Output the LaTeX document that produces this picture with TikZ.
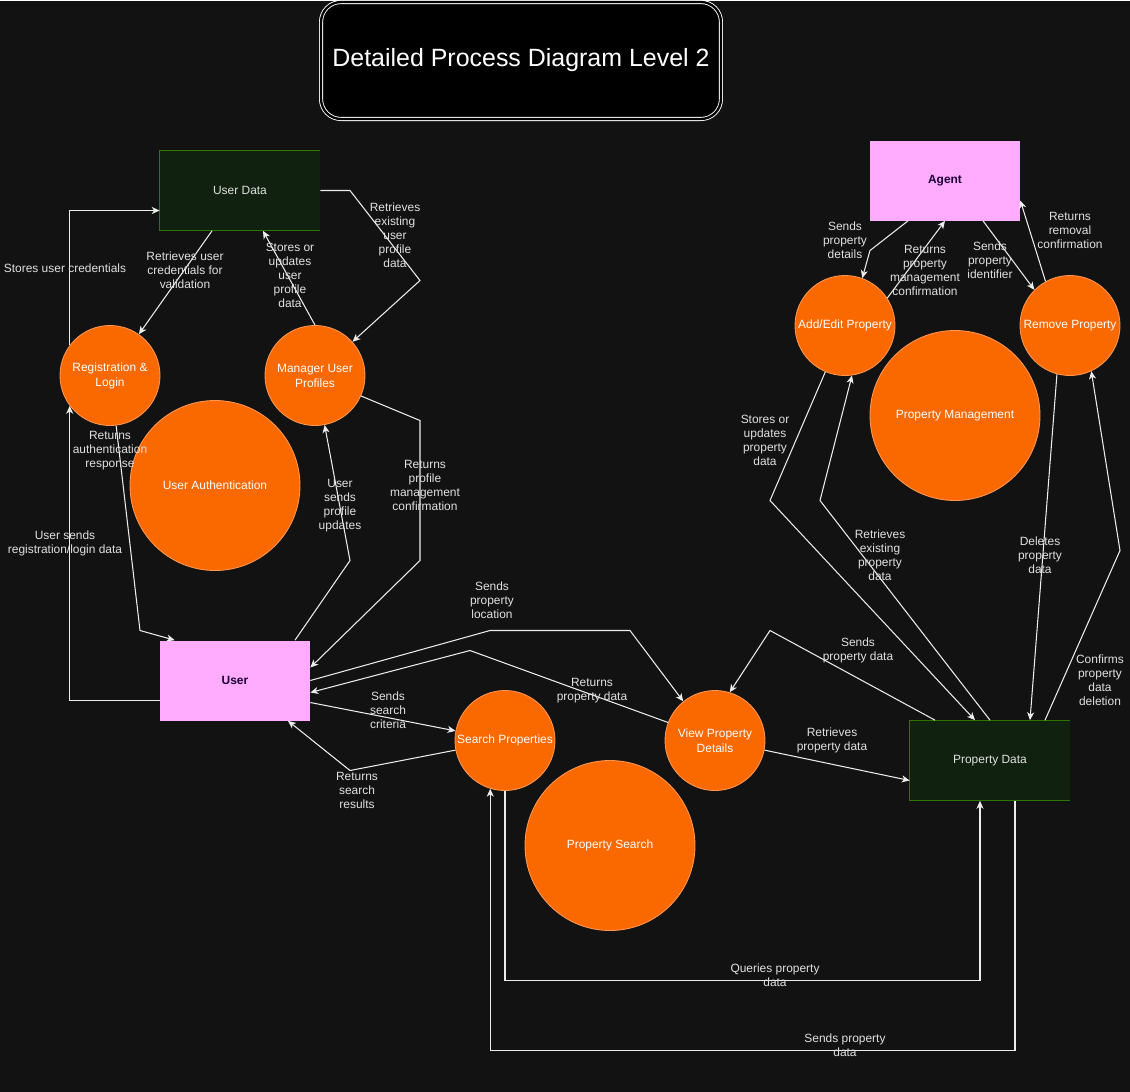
\documentclass[tikz,border=0pt]{standalone}
\usepackage{xcolor}
\usepackage{fontspec}
\setmainfont{Liberation Sans}
\usepackage{tikz}
\usetikzlibrary{arrows.meta,calc}
\definecolor{canvas}{RGB}{18,18,18}
\definecolor{storefill}{RGB}{17,33,16}
\definecolor{storeline}{RGB}{45,118,0}
\definecolor{actorfill}{RGB}{255,172,255}
\definecolor{actortext}{RGB}{26,0,51}
\definecolor{procfill}{RGB}{250,104,0}
\definecolor{procline}{RGB}{255,150,80}
\definecolor{flowline}{RGB}{236,236,236}
\definecolor{flowtext}{RGB}{225,225,225}

\tikzset{
  titlebox/.style={draw=white, double=black, double distance=1.3pt, line width=0.5pt, fill=black, rounded corners=0.4cm,
    minimum width=8.0cm, minimum height=2.34cm, text=white, font=\fontsize{14.2}{17}\selectfont},
  store/.style={fill=storefill, minimum width=3.2cm, minimum height=1.6cm, text=flowtext, font=\fontsize{6.8}{8.5}\selectfont},
  actorbox/.style={fill=actorfill, minimum width=3.0cm, minimum height=1.6cm, text=actortext, font=\fontsize{6.8}{8.5}\selectfont\bfseries},
  proc/.style={circle, fill=procfill, draw=procline, line width=0.5pt, inner sep=0pt, minimum size=2cm, align=center,
    text=white, font=\fontsize{6.8}{8.5}\selectfont},
  bigproc/.style={proc, minimum size=3.4cm},
  flow/.style={draw=flowline, line width=0.6pt, -{Stealth[length=4.5pt, width=4pt, inset=1.3pt]}},
  lbl/.style={text=flowtext, align=center, inner sep=0pt, font=\fontsize{6.8}{8}\selectfont}
}

\begin{document}
\begin{tikzpicture}[x=0.02cm, y=-0.02cm]
  \fill[canvas] (0,0) rectangle (1130,1091);

  % title
  \node[titlebox] (title) at (521,60) {Detailed Process Diagram Level 2};

  % actors and data stores
  \node[store] (udata) at (240,190) {User Data};
  \node[store] (pdata) at (990,760) {Property Data};
  \foreach \s in {udata,pdata}
    \draw[storeline, line width=0.6pt] (\s.north east) -- (\s.north west) -- (\s.south west) -- (\s.south east);
  \node[actorbox] (agent) at (945,180) {Agent};
  \node[actorbox] (user) at (235,680) {User};

  % processes
  \node[proc] (reg) at (110,375) {Registration \&\\Login};
  \node[proc] (mgr) at (315,375) {Manager User\\Profiles};
  \node[bigproc] (auth) at (215,485) {User Authentication};
  \node[proc] (addedit) at (845,325) {Add/Edit Property};
  \node[proc] (remove) at (1070,325) {Remove Property};
  \node[bigproc] (pmgmt) at (955,415) {Property Management};
  \node[proc] (search) at (505,740) {Search Properties};
  \node[proc] (view) at (715,740) {View Property\\Details};
  \node[bigproc] (psearch) at (610,845) {Property Search};

  % user authentication flows
  \draw[flow] (reg.143) |- ($(udata.west)+(0,20)$);
  \node[lbl] (l1) at (65,268) {Stores user credentials};
  \draw[flow] ($(udata.south)+(-28,0)$) -- (reg.55);
  \node[lbl] (l2) at (185,270) {Retrieves user\\credentials for\\validation};
  \draw[flow] (mgr.north) -- ($(udata.south)+(23,0)$);
  \node[lbl] (l3) at (290,275) {Stores or\\updates\\user\\profile\\data};
  \draw[flow] (udata.east) -- (350,190) -- (420,280) -- (mgr.42);
  \node[lbl] (l4) at (395,235) {Retrieves\\existing\\user\\profile\\data};
  \draw[flow] ($(user.west)+(0,20)$) -| (reg.217);
  \node[lbl] (l5) at (65,543) {User sends\\registration/login data};
  \draw[flow] (reg.277) -- (140,630) -- ($(user.north west)+(15,0)$);
  \node[lbl] (l6) at (110,450) {Returns\\authentication\\response};
  \draw[flow] ($(user.north)+(60,0)$) -- (350,560) -- (mgr.281);
  \node[lbl] (l7) at (340,505) {User\\sends\\profile\\updates};
  \draw[flow] (mgr.336) -- (420,420) -- (420,560) -- ($(user.east)+(0,-13)$);
  \node[lbl] (l8) at (425,485) {Returns\\profile\\management\\confirmation};

  % property search flows
  \draw[flow] (user.east) -- (490,630) -- (630,630) -- (view.129);
  \node[lbl] (l9) at (492,600) {Sends\\property\\location};
  \draw[flow] (view.159) -- (470,650) -- ($(user.east)+(0,12)$);
  \node[lbl] (l10) at (592,690) {Returns\\property data};
  \draw[flow] ($(user.east)+(0,22)$) -- (search.169);
  \node[lbl] (l11) at (388,710) {Sends\\search\\criteria};
  \draw[flow] (search.191) -- (350,770) -- ($(user.south)+(53,0)$);
  \node[lbl] (l12) at (357,790) {Returns\\search\\results};
  \draw[flow] (search.south) -- (505,980) -| ($(pdata.south)+(-10,0)$);
  \node[lbl] (l13) at (775,975) {Queries property\\data};
  \draw[flow] ($(pdata.south)+(25,0)$) -- (1015,1050) -| (search.253);
  \node[lbl] (l14) at (845,1045) {Sends property\\data};
  \draw[flow] (view.349) -- ($(pdata.west)+(0,20)$);
  \node[lbl] (l15) at (832,740) {Retrieves\\property data};
  \draw[flow] ($(pdata.north)+(-55,0)$) -- (770,630) -- (view.73);
  \node[lbl] (l16) at (858,650) {Sends\\property data};

  % property management flows
  \draw[flow] (addedit.247) -- (770,500) -- ($(pdata.north)+(-15,0)$);
  \node[lbl] (l17) at (765,440) {Stores or\\updates\\property\\data};
  \draw[flow] (pdata.north) -- (820,500) -- (addedit.278);
  \node[lbl] (l18) at (880,555) {Retrieves\\existing\\property\\data};
  \draw[flow] ($(agent.south)+(-37,0)$) -- (870,250) -- (addedit.70);
  \node[lbl] (l19) at (845,240) {Sends\\property\\details};
  \draw[flow] (addedit.33) -- (agent.south);
  \node[lbl] (l20) at (925,270) {Returns\\property\\management\\confirmation};
  \draw[flow] ($(agent.south)+(38,0)$) -- (remove.135);
  \node[lbl] (l21) at (990,260) {Sends\\property\\identifier};
  \draw[flow] (remove.119) -- ($(agent.east)+(0,20)$);
  \node[lbl] (l22) at (1070,230) {Returns\\removal\\confirmation};
  \draw[flow] (remove.255) -- ($(pdata.north)+(40,0)$);
  \node[lbl] (l23) at (1040,555) {Deletes\\property\\data};
  \draw[flow] ($(pdata.north)+(55,0)$) -- (1120,550) -- (remove.295);
  \node[lbl] (l24) at (1100,680) {Confirms\\property\\data\\deletion};
\end{tikzpicture}
\end{document}
